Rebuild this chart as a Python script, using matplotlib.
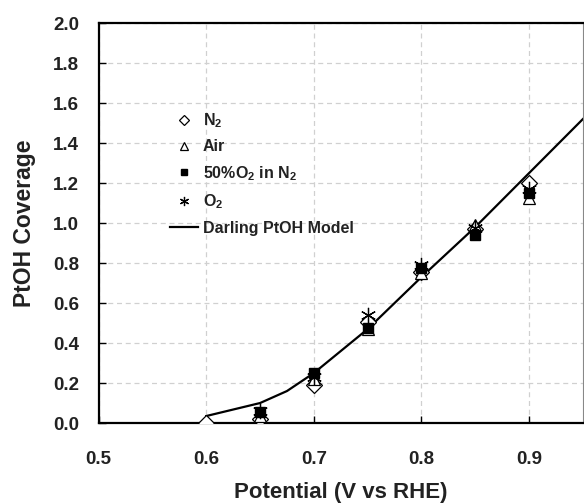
import matplotlib
matplotlib.use("Agg")
import matplotlib.pyplot as plt

plt.rcParams['font.family'] = ['Liberation Sans', 'DejaVu Sans']
plt.rcParams['font.weight'] = 'bold'
plt.rcParams['mathtext.fontset'] = 'custom'
plt.rcParams['mathtext.rm'] = 'Liberation Sans:bold'
plt.rcParams['mathtext.bf'] = 'Liberation Sans:bold'
plt.rcParams['text.color'] = '#222222'
plt.rcParams['xtick.labelcolor'] = '#222222'
plt.rcParams['ytick.labelcolor'] = '#222222'
plt.rcParams['axes.labelcolor'] = '#222222'

potential = [0.60, 0.65, 0.70, 0.75, 0.80, 0.85, 0.90]
n2 = [0.00, 0.02, 0.19, 0.505, 0.755, 0.97, 1.20]
air_x = [0.65, 0.70, 0.75, 0.80, 0.85, 0.90]
air = [0.035, 0.22, 0.47, 0.75, 0.99, 1.125]
half_o2 = [0.055, 0.25, 0.475, 0.775, 0.94, 1.15]
o2 = [0.06, 0.23, 0.54, 0.79, 0.975, 1.17]

model_x = [0.60, 0.65, 0.675, 0.70, 0.75, 0.80, 0.85, 0.90, 0.95]
model_y = [0.035, 0.10, 0.16, 0.25, 0.47, 0.73, 0.98, 1.25, 1.52]

labels = ['N$_2$', 'Air', '50%O$_2$ in N$_2$', 'O$_2$', 'Darling PtOH Model']

fig = plt.figure(figsize=(5.84, 5.03), dpi=100)
ax = fig.add_axes([0.169, 0.159, 0.829, 0.795])

ax.plot(model_x, model_y, color='black', lw=1.6, label=labels[4], zorder=2)
ax.plot(potential, n2, linestyle='none', marker='D', ms=8, mfc='white', mec='black', mew=0.9, label=labels[0], zorder=3)
ax.plot(air_x, air, linestyle='none', marker='^', ms=9, mfc='white', mec='black', mew=0.9, label=labels[1], zorder=3)
ax.plot(air_x, half_o2, linestyle='none', marker='s', ms=6.5, mfc='black', mec='black', label=labels[2], zorder=4)
ax.plot(air_x, o2, linestyle='none', marker=(6, 2, 0), ms=11, mec='black', mew=0.9, label=labels[3], zorder=5)

ax.set_xlim(0.5, 0.95)
ax.set_ylim(0.0, 2.0)
ax.set_xticks([0.5, 0.6, 0.7, 0.8, 0.9])
ax.set_yticks([0.0, 0.2, 0.4, 0.6, 0.8, 1.0, 1.2, 1.4, 1.6, 1.8, 2.0])
ax.xaxis.set_major_formatter(matplotlib.ticker.FormatStrFormatter('%.1f'))
ax.yaxis.set_major_formatter(matplotlib.ticker.FormatStrFormatter('%.1f'))
ax.tick_params(direction='in', length=5, width=1, labelsize=13.5)
ax.tick_params(axis='y', pad=14)
ax.tick_params(axis='x', pad=20)
ax.grid(True, color='#d0d0d0', linestyle=(0, (4, 3)), linewidth=0.9)
ax.set_axisbelow(True)

for s in ['top', 'left', 'bottom']:
    ax.spines[s].set_linewidth(1.6)
ax.spines['right'].set_linewidth(0.8)
ax.spines['right'].set_color('#888888')

ax.set_xlabel('Potential (V vs RHE)', fontsize=16, fontweight='bold', labelpad=10)
ax.set_ylabel('PtOH Coverage', fontsize=16.5, fontweight='bold', labelpad=12)

h, l = ax.get_legend_handles_labels()
order = [1, 2, 3, 4, 0]
leg = ax.legend([h[i] for i in order], [l[i] for i in order], loc='upper left',
                bbox_to_anchor=(0.147, 0.78), frameon=False, fontsize=11.5,
                markerscale=0.6, handlelength=1.75, labelspacing=0.6,
                handletextpad=0.3, borderpad=0, borderaxespad=0)
for t in leg.get_texts():
    t.set_fontweight('bold')

fig.savefig('out.png', dpi=100)
